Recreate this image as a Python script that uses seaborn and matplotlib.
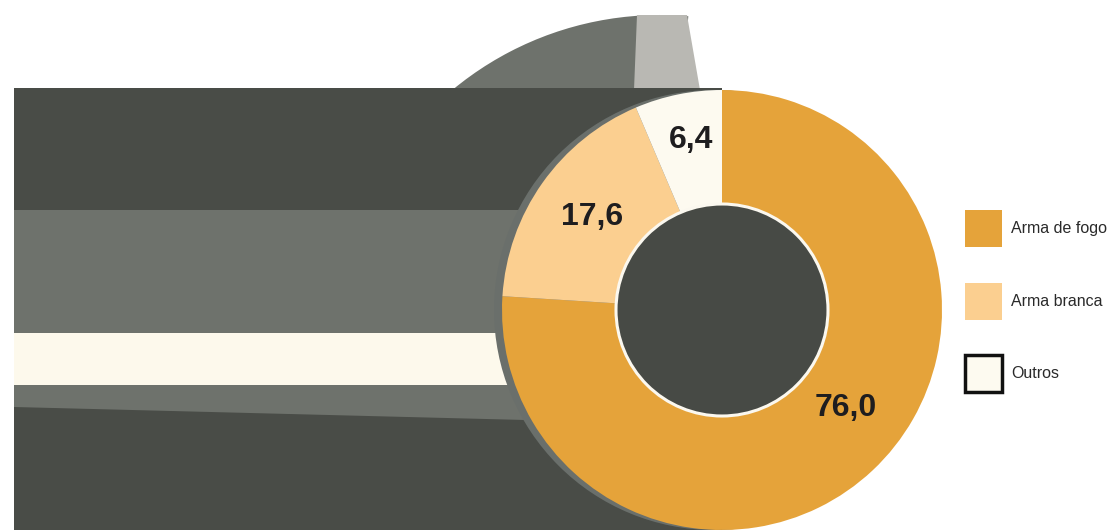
import numpy as np
import matplotlib
matplotlib.use("Agg")
import matplotlib.pyplot as plt
from matplotlib.patches import Circle, Wedge, Patch, Polygon
import seaborn as sns

# ---- data ----
categories = ["Arma de fogo", "Arma branca", "Outros"]
values = [76.0, 17.6, 6.4]
value_labels = ["76,0", "17,6", "6,4"]
colors = ["#e5a33a", "#fbcf90", "#fdfaf0"]

# ---- style ----
sns.set_theme(style="white")
plt.rcParams["font.family"] = ["Liberation Sans", "DejaVu Sans"]

DARK = "#494c47"
MID = "#6e726c"
CREAM = "#fdf9ec"
LIGHTGRAY = "#b9b8b3"
SHADOW = "#6a6f6b"

W, H = 1108, 532
fig = plt.figure(figsize=(W / 100, H / 100), dpi=100)
ax = fig.add_axes([0, 0, 1, 1])

def Y(yp):
    return H - yp

# decorative background (pixel geometry)
ax.add_patch(Wedge((660, Y(340)), 325, 85, 150, facecolor=MID, edgecolor="none", zorder=1))
ax.add_patch(Polygon([(637, Y(15)), (687, Y(15)), (700, Y(90)), (634, Y(90))],
                     closed=True, facecolor=LIGHTGRAY, edgecolor="none", zorder=1.5))
band_tops = [88, 210, 333, 385]
band_bottoms = [210, 333, 385, 425]
band_colors = [DARK, MID, CREAM, MID]
for t, b, c in zip(band_tops, band_bottoms, band_colors):
    ax.barh(Y((t + b) / 2), 722 - 14, height=b - t, left=14, color=c, edgecolor="none", zorder=2)
ax.add_patch(Polygon([(14, Y(407)), (722, Y(425)), (722, Y(530)), (14, Y(530))],
                     closed=True, facecolor=DARK, edgecolor="none", zorder=2.5))

# donut shadow
cx, cy, R, r_in = 722, Y(310), 220, 106
ax.add_patch(Circle((cx - 8, cy), R, facecolor=SHADOW, edgecolor="none", zorder=3))

# donut
wedges, _ = ax.pie(values, colors=colors, startangle=90, counterclock=False,
                   radius=R, center=(cx, cy),
                   wedgeprops=dict(width=R - r_in, linewidth=0))
for w in wedges:
    w.set_zorder(4)
ax.add_patch(Circle((cx, cy), r_in, facecolor="#474a45", edgecolor="#fbf8ef", linewidth=2.2, zorder=5))

# value labels
label_xy = [(846, 408), (592, 217), (691, 140)]
for (lx, ly), t in zip(label_xy, value_labels):
    ax.text(lx, Y(ly), t, ha="center", va="center", fontsize=23, fontweight="bold",
            color="#1e1d1f", zorder=6)

# legend
f = 11.5
fpx = f * 100 / 72
hh = (37 / fpx - 0.245) / 0.65
hl = 37 / fpx
handles = [Patch(facecolor=colors[0], edgecolor="none"),
           Patch(facecolor=colors[1], edgecolor="none"),
           Patch(facecolor=colors[2], edgecolor="#111111", linewidth=2.5)]
leg = ax.legend(handles, categories, loc="upper left", bbox_to_anchor=(965 / W, Y(210) / H),
                frameon=False, borderpad=0, borderaxespad=0, fontsize=f,
                handlelength=hl, handleheight=hh, handletextpad=9 / fpx,
                labelspacing=(72.5 - 37) / fpx)
for txt in leg.get_texts():
    txt.set_color("#2a2a2a")

ax.set_xlim(0, W)
ax.set_ylim(0, H)
ax.set_aspect("equal")
ax.axis("off")
fig.savefig("out.png", dpi=100, facecolor="white")
